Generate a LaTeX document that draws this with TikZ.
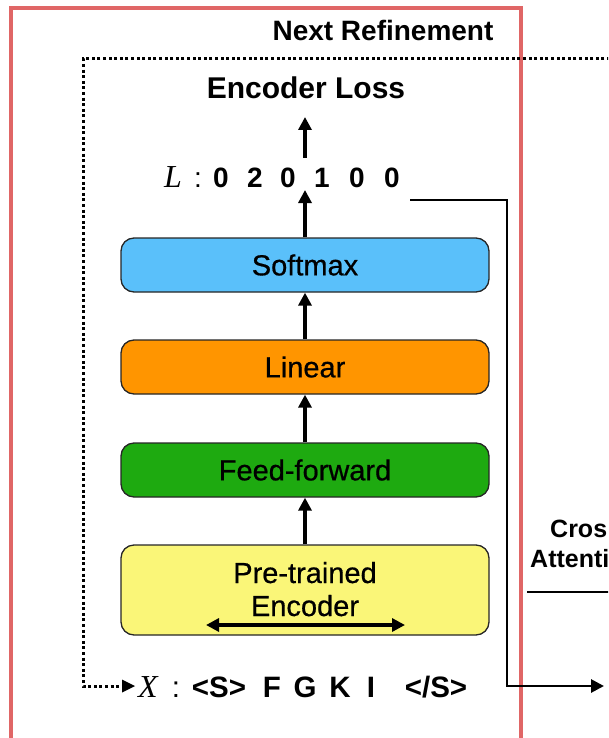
\documentclass[tikz,border=0pt]{standalone}
\usepackage{fontspec}
\setmainfont{Liberation Sans}
\newfontfamily\serifitfont{Liberation Serif}
\newfontfamily\boxfont{Liberation Sans}[FakeBold=0.6]
\usetikzlibrary{arrows.meta,calc}
\definecolor{redframe}{RGB}{224,102,102}
\definecolor{softblue}{RGB}{90,192,250}
\definecolor{linorange}{RGB}{255,149,0}
\definecolor{ffgreen}{RGB}{30,170,16}
\definecolor{encyellow}{RGB}{250,246,120}
\begin{document}
\begin{tikzpicture}[x=1pt,y=-1pt,
  box/.style={draw=black!85, line width=1.3pt, rounded corners=13pt, minimum width=368pt, minimum height=54pt, inner sep=0pt, font=\boxfont\fontsize{29}{33}\selectfont, align=center},
  blabel/.style={inner sep=0pt, font=\boxfont\fontsize{29}{31}\selectfont, anchor=base},
  arr/.style={line width=3.2pt, -{Triangle[length=13pt,width=13pt]}},
  dbl/.style={line width=3.2pt, {Triangle[length=13pt,width=13pt]}-{Triangle[length=13pt,width=13pt]}},
  tok/.style={font=\bfseries\fontsize{28}{30}\selectfont, inner sep=0pt, anchor=base},
  xtok/.style={font=\bfseries\fontsize{29.5}{31}\selectfont, inner sep=0pt, anchor=base},
  vark/.style={font=\serifitfont\itshape\fontsize{32}{34}\selectfont, inner sep=0pt, anchor=base},
  title/.style={font=\bfseries\fontsize{28}{30}\selectfont, inner sep=0pt, anchor=base},
  side/.style={font=\bfseries\fontsize{25}{27}\selectfont, inner sep=0pt, anchor=base west},
  dots/.style={line width=3pt, dash pattern=on 3pt off 2.6pt}
]
\useasboundingbox (0,0) rectangle (608,738);
\clip (0,0) rectangle (608,738);

% red frame
\draw[redframe, line width=3.5pt] (11,8) rectangle (521,760);

% titles
\node[title] (next) at (383,41) {Next Refinement};
\node[title, font=\bfseries\fontsize{30}{32}\selectfont] (loss) at (306,99) {Encoder Loss};

% boxes
\node[box, fill=softblue] (softmax) at (305,265) {Softmax};
\node[box, fill=linorange] (linear) at (305,367) {Linear};
\node[box, fill=ffgreen] (ff) at (305,470) {Feed-forward};
\node[box, fill=encyellow, minimum height=90pt] (enc) at (305,590) {};
\node[blabel] (pre) at (305,583) {Pre-trained};
\node[blabel] (encl) at (305,616) {Encoder};
\coordinate (encL) at (206,625);
\coordinate (encR) at (405,625);
\draw[dbl] (encL) -- (encR);

% L row
\node[vark] (Lv) at (173,187) {L};
\node[tok, font=\fontsize{28}{30}\selectfont] (Lc) at (198,187) {:};
\node[tok] (d1) at (221,187) {0};
\node[tok] (d2) at (255,187) {2};
\node[tok] (d3) at (288,187) {0};
\node[tok] (d4) at (322,187) {1};
\node[tok] (d5) at (357,187) {0};
\node[tok] (d6) at (392,187) {0};

% X row
\node[vark] (Xv) at (148,697) {X};
\node[xtok, font=\fontsize{29.5}{31}\selectfont] (Xc) at (176,697) {:};
\node[xtok] (t1) at (219,697) {<S>};
\node[xtok] (t2) at (272,697) {F};
\node[xtok] (t3) at (305,697) {G};
\node[xtok] (t4) at (340,697) {K};
\node[xtok] (t5) at (371,697) {I};
\node[xtok] (t6) at (436,697) {</S>};

% vertical flow arrows
\draw[arr] (enc.north) -- (ff.south);
\draw[arr] (ff.north) -- (linear.south);
\draw[arr] (linear.north) -- (softmax.south);
\coordinate (lin) at (305,190);
\coordinate (lout) at (305,158);
\coordinate (losstip) at (305,117);
\draw[arr] (softmax.north) -- (lin);
\draw[arr] (lout) -- (losstip);

% dotted refinement loop
\coordinate (dR) at (610,59);
\coordinate (dC1) at (83,59);
\coordinate (dC2) at (83,686);
\coordinate (dTip) at (135,686);
\draw[dots] (dR) -- (dC1) -- (dC2) -- ($(dTip)+(-10,0)$);
\fill (dTip) -- ++(-13,-6.5) -- ++(0,13) -- cycle;

% output connector to the right
\coordinate (o1) at (410,200);
\coordinate (o2) at (507,200);
\coordinate (o3) at (507,686);
\coordinate (o4) at (604,686);
\draw[arr, line width=2.8pt] (o1) -- (o2) -- (o3) -- (o4);

% cut-off cross-attention part
\node[side] (cross) at (550,537) {Cros};
\node[side] (att) at (530,567) {Attenti};
\coordinate (cl1) at (527,592);
\coordinate (cl2) at (610,592);
\draw[line width=2.8pt] (cl1) -- (cl2);
\end{tikzpicture}
\end{document}
